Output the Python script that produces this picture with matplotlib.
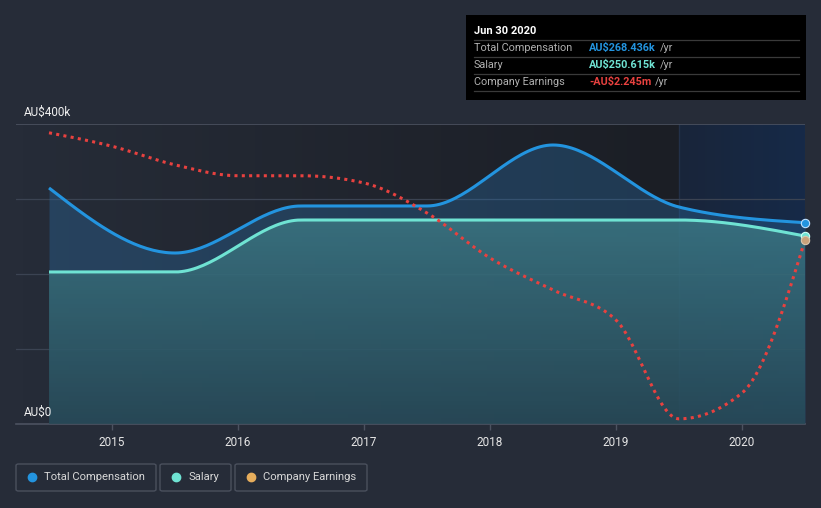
import numpy as np
import matplotlib
matplotlib.use("Agg")
from matplotlib import pyplot as plt
from matplotlib.colors import LinearSegmentedColormap
from matplotlib.patches import FancyBboxPatch, Rectangle

plt.rcParams['font.family'] = ['Roboto', 'DejaVu Sans']

# ---- data ----
COMP_YEARS = [2014.5, 2015.5, 2016.5, 2017.5, 2018.5, 2019.5, 2020.5]
TOTAL_COMP = [314.7, 228.0, 290.7, 290.7, 372.0, 289.3, 268.436]   # AU$k
SALARY = [202.7, 202.7, 272.0, 272.0, 272.0, 272.0, 250.615]      # AU$k

EARN_YEARS = [2014.5, 2015.0, 2015.5, 2016.0, 2016.5, 2017.0, 2017.5,
              2018.0, 2018.5, 2019.0, 2019.5, 2020.0, 2020.5]
EARNINGS = [-0.17, -0.43, -0.79, -1.0, -1.0, -1.14, -1.72,
            -2.59, -3.21, -3.79, -5.7, -5.2, -2.245]               # AU$m

YEAR_TICKS = [2015, 2016, 2017, 2018, 2019, 2020]

BG = "#262c38"
BLUE = "#2394df"
TEAL = "#6fe3d3"
RED = "#e8413f"
ORANGE = "#e6ad5c"


def monotone(xs, ys, n=40):
    # monotone cubic (d3 curveMonotoneX style)
    xs = np.asarray(xs, float)
    ys = np.asarray(ys, float)
    h = np.diff(xs)
    s = np.diff(ys) / h
    m = np.zeros(len(xs))
    for i in range(1, len(xs) - 1):
        p = (s[i - 1] * h[i] + s[i] * h[i - 1]) / (h[i - 1] + h[i])
        m[i] = (np.sign(s[i - 1]) + np.sign(s[i])) * min(abs(s[i - 1]), abs(s[i]), 0.5 * abs(p))
    m[0] = (3 * s[0] - m[1]) / 2
    m[-1] = (3 * s[-1] - m[-2]) / 2
    outx, outy = [], []
    for i in range(len(xs) - 1):
        t = np.linspace(0, 1, n, endpoint=(i == len(xs) - 2))
        h00 = 2 * t**3 - 3 * t**2 + 1
        h10 = t**3 - 2 * t**2 + t
        h01 = -2 * t**3 + 3 * t**2
        h11 = t**3 - t**2
        outx.append(xs[i] + t * h[i])
        outy.append(h00 * ys[i] + h10 * h[i] * m[i] + h01 * ys[i + 1] + h11 * h[i] * m[i + 1])
    return np.concatenate(outx), np.concatenate(outy)


fig = plt.figure(figsize=(8.21, 5.08), dpi=100)
fig.patch.set_facecolor(BG)
ax = fig.add_axes([16 / 821, 1 - 424 / 508, 789 / 821, 300 / 508])
ax.set_facecolor(BG)
x0, x1 = 2014.238, 2020.5
ax.set_xlim(x0, x1)
ax.set_ylim(0, 400)

# background: gradient up to the last year, highlighted last year
grad = LinearSegmentedColormap.from_list("g", [BG, "#1b1e25"])
ax.imshow(np.linspace(0, 1, 100).reshape(1, -1), cmap=grad, aspect="auto",
          extent=[x0, 2019.5, 0, 400], zorder=0)
hl = LinearSegmentedColormap.from_list("h", ["#19253a", "#162a48"])
ax.imshow(np.linspace(0, 1, 100).reshape(1, -1), cmap=hl, aspect="auto",
          extent=[2019.5, x1, 0, 400], zorder=0)
ax.axvline(2019.5, color="#223048", lw=1, zorder=0.5)

for v in [100, 200, 300]:
    ax.axhline(v, color="#3b4352", lw=0.9, zorder=1)
ax.axhline(400, color="#4c5260", lw=1.2, zorder=1)

# total compensation
tx, ty = monotone(COMP_YEARS, TOTAL_COMP)
ax.fill_between(tx, 0, ty, color="#2a6ea8", alpha=0.35, lw=0, zorder=2)

# salary with vertical gradient fill
sx, sy = monotone(COMP_YEARS, SALARY)
sal_fill = ax.fill_between(sx, 0, sy, color="none", lw=0, zorder=3)
sg = LinearSegmentedColormap.from_list("s", ["#284955", "#3c7884"])
img = ax.imshow(np.linspace(0, 1, 100).reshape(-1, 1), cmap=sg, aspect="auto",
                origin="lower", extent=[x0, x1, 0, 280], zorder=3, alpha=0.85)
img.set_clip_path(sal_fill.get_paths()[0], transform=ax.transData)

ax.plot(tx, ty, color=BLUE, lw=2.2, zorder=5, solid_capstyle="butt")
ax.plot(sx, sy, color=TEAL, lw=2.2, zorder=5, solid_capstyle="butt")

# company earnings on a hidden secondary scale
ax2 = ax.twinx()
ax2.set_ylim(-5.8, 0)
ex, ey = monotone(EARN_YEARS, EARNINGS)
ax2.plot(ex, ey, color=RED, lw=2.2, linestyle=(0, (1, 1.4)), zorder=6)
ax2.plot([EARN_YEARS[-1]], [EARNINGS[-1]], "o", ms=6, color="#c9a27a",
         mec="#d8c8b0", mew=0.8, zorder=7, clip_on=False)
ax2.axis("off")

ax.plot([COMP_YEARS[-1]], [TOTAL_COMP[-1]], "o", ms=6, color=BLUE,
        mec="#bfe0ff", mew=0.8, zorder=7, clip_on=False)
ax.plot([COMP_YEARS[-1]], [SALARY[-1]], "o", ms=6, color=TEAL,
        mec="#d0fff8", mew=0.8, zorder=6.5, clip_on=False)

# axes styling
for sp in ["top", "right", "left"]:
    ax.spines[sp].set_visible(False)
ax.spines["bottom"].set_color("#4c5260")
ax.spines["bottom"].set_linewidth(1.2)
ax.set_yticks([])
ax.set_xticks(YEAR_TICKS)
ax.set_xticklabels([str(y) for y in YEAR_TICKS])
ax.tick_params(axis="x", colors="#4c5260", length=4, width=1, pad=5,
               labelcolor="#e6e6e6", labelsize=8.5)

fig.text(24 / 821, 1 - 112 / 508, "AU$400k", color="#f0f0f0", fontsize=8.5,
         va="center", ha="left")
fig.text(24 / 821, 1 - 412 / 508, "AU$0", color="#f0f0f0", fontsize=8.5,
         va="center", ha="left")

# tooltip
fig.patches.append(Rectangle((466 / 821, 1 - 100 / 508), 340 / 821, 85 / 508,
                             transform=fig.transFigure, facecolor="#000000",
                             edgecolor="none", zorder=10))
fig.text(474 / 821, 1 - 31 / 508, "Jun 30 2020", color="white", fontsize=8,
         fontweight="bold", va="center", zorder=11)
rows = [("Total Compensation", "AU$268.436k", BLUE),
        ("Salary", "AU$250.615k", TEAL),
        ("Company Earnings", "-AU$2.245m", RED)]
for i, (name, val, col) in enumerate(rows):
    yy = 1 - (48 + i * 17) / 508
    fig.text(474 / 821, yy, name, color="#b0b0b0", fontsize=7.8, va="center", zorder=11)
    t = fig.text(589 / 821, yy, val, color=col, fontsize=7.8, fontweight="bold",
                 va="center", zorder=11)
    fig.canvas.draw()
    bb = t.get_window_extent()
    fig.text(bb.x1 / 821 + 4 / 821, yy, "/yr", color="#b0b0b0", fontsize=7.8,
             va="center", zorder=11)
for ly in [40, 57, 74, 91]:
    fig.add_artist(plt.Line2D([474 / 821, 799 / 821], [1 - ly / 508, 1 - ly / 508],
                              color="#3a3a3a", lw=0.9, zorder=11))

# legend boxes
legend = [("Total Compensation", BLUE, 16, 156),
          ("Salary", TEAL, 160, 231),
          ("Company Earnings", ORANGE, 235, 367)]
for name, col, lx0, lx1 in legend:
    fig.patches.append(FancyBboxPatch((lx0 / 821, 1 - 491 / 508), (lx1 - lx0) / 821, 27 / 508,
                                      boxstyle="round,pad=0,rounding_size=0.003",
                                      transform=fig.transFigure, facecolor="none",
                                      edgecolor="#4a505d", lw=1))
    fig.add_artist(plt.Line2D([(lx0 + 16) / 821], [1 - 477 / 508], marker="o", ms=6,
                              color=col, lw=0))
    fig.text((lx0 + 28) / 821, 1 - 477 / 508, name, color="#d8d8d8", fontsize=8.1,
             va="center")

fig.savefig("out.png", dpi=100, facecolor=BG)
